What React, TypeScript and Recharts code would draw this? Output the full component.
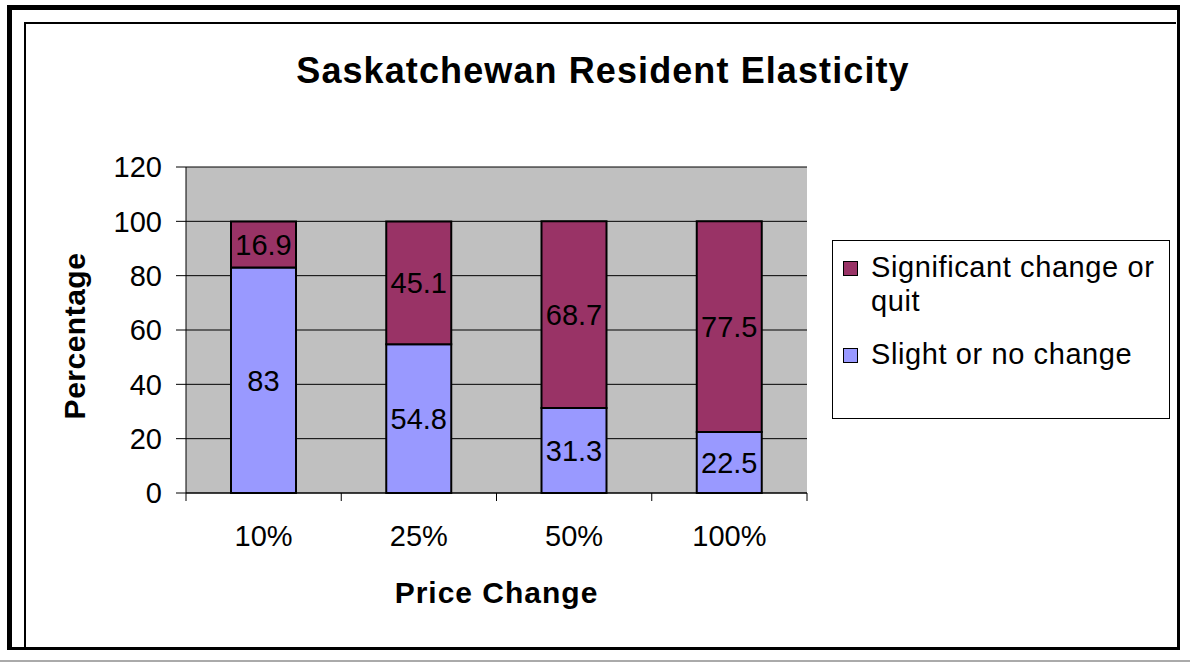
import { BarChart, Bar, XAxis, YAxis, CartesianGrid, LabelList } from 'recharts'

const priceChanges = ['10%', '25%', '50%', '100%']
const slightOrNone = [83, 54.8, 31.3, 22.5]
const significantOrQuit = [16.9, 45.1, 68.7, 77.5]
const yTicks = [0, 20, 40, 60, 80, 100, 120]
const legendItems = [
    { label: 'Significant change or quit', color: '#993366' },
    { label: 'Slight or no change', color: '#9999FF' }
]

const data = priceChanges.map((p, i) => ({
    price: p,
    slight: slightOrNone[i],
    significant: significantOrQuit[i]
}))

const FONT = '"Liberation Sans", Arial, sans-serif'
const PLOT_LEFT = 186
const PLOT_RIGHT = 807
const PLOT_TOP = 167
const PLOT_BOTTOM = 493
const BAND = (PLOT_RIGHT - PLOT_LEFT) / priceChanges.length

// category label plus tick marks on the band edges, like Excel does
const PriceTick = (props: any) => {
    const { x, y, payload, index } = props
    const left = x - BAND / 2
    return (
        <g>
            <line x1={left} x2={left} y1={y} y2={y + 8} stroke="#000" strokeWidth={1} />
            {index === priceChanges.length - 1 && (
                <line x1={x + BAND / 2} x2={x + BAND / 2} y1={y} y2={y + 8} stroke="#000" strokeWidth={1} />
            )}
            <text x={x} y={y + 45} textAnchor="middle" dominantBaseline="middle" fontSize={29} fill="#000" fontFamily={FONT}>
                {payload.value}
            </text>
        </g>
    )
}

const LegendBox = () => (
    <div
        style={{
            position: 'absolute',
            left: 832,
            top: 240,
            width: 336,
            height: 177,
            border: '1px solid #000',
            background: '#fff',
            fontFamily: FONT,
            fontSize: 29,
            letterSpacing: 0.6,
            lineHeight: '34px'
        }}
    >
        {legendItems.map((item, i) => (
            <div key={item.label} style={{ position: 'absolute', left: 10, top: i === 0 ? 9 : 96, display: 'flex', alignItems: 'flex-start' }}>
                <div
                    style={{
                        width: 13,
                        height: 13,
                        background: item.color,
                        border: '1.5px solid #000',
                        marginTop: 11,
                        marginRight: 13,
                        flexShrink: 0
                    }}
                />
                <span style={{ width: 296 }}>{item.label}</span>
            </div>
        ))}
    </div>
)

export default function App() {
    return (
        <div style={{ position: 'absolute', left: 0, top: 0, width: 1190, height: 662, background: '#fff', overflow: 'hidden' }}>
            {/* page frame */}
            <div style={{ position: 'absolute', left: 7, top: 5, width: 1165, height: 637, borderLeft: '5px solid #000', borderTop: '5px solid #000', borderRight: '3px solid #000', borderBottom: '3px solid #000' }} />
            <div style={{ position: 'absolute', left: 24, top: 22, width: 1150, height: 625, borderLeft: '2px solid #000', borderTop: '2px solid #000' }} />
            <div style={{ position: 'absolute', left: 0, top: 660, width: 1190, height: 2, background: '#aaa' }} />

            <div style={{ position: 'absolute', left: 0, top: 0 }}>
                <BarChart
                    width={1190}
                    height={662}
                    data={data}
                    barSize={65}
                    margin={{ top: PLOT_TOP, right: 1190 - PLOT_RIGHT, bottom: 662 - PLOT_BOTTOM - 90, left: PLOT_LEFT - 100 }}
                >
                    <CartesianGrid vertical={false} stroke="#000" fill="#C0C0C0" fillOpacity={1} />
                    <XAxis
                        dataKey="price"
                        height={90}
                        axisLine={{ stroke: '#000' }}
                        tickLine={false}
                        tickSize={0}
                        tickMargin={0}
                        tick={<PriceTick />}
                        interval={0}
                    />
                    <XAxis xAxisId="top" orientation="top" dataKey="price" height={0} axisLine={{ stroke: '#808080' }} tick={false} tickLine={false} />
                    <YAxis
                        width={100}
                        domain={[0, 120]}
                        ticks={yTicks}
                        interval={0}
                        axisLine={{ stroke: '#000' }}
                        tickLine={{ stroke: '#000' }}
                        tickSize={10}
                        tickMargin={14}
                        tick={{ fontSize: 29, fill: '#000', fontFamily: FONT }}
                    />
                    <YAxis yAxisId="right" orientation="right" width={0} domain={[0, 120]} axisLine={{ stroke: '#808080' }} tick={false} tickLine={false} />
                    <Bar dataKey="slight" stackId="a" fill="#9999FF" stroke="#000" strokeWidth={2} isAnimationActive={false}>
                        <LabelList dataKey="slight" position="center" fill="#000" fontSize={29} fontFamily={FONT} />
                    </Bar>
                    <Bar dataKey="significant" stackId="a" fill="#993366" stroke="#000" strokeWidth={2} isAnimationActive={false}>
                        <LabelList dataKey="significant" position="center" fill="#000" fontSize={29} fontFamily={FONT} />
                    </Bar>
                </BarChart>
            </div>

            <LegendBox />

            <div
                style={{
                    position: 'absolute',
                    left: 0,
                    width: 1206,
                    top: 48,
                    textAlign: 'center',
                    fontFamily: FONT,
                    fontSize: 36,
                    letterSpacing: 1.1,
                    fontWeight: 'bold',
                    lineHeight: '46px'
                }}
            >
                Saskatchewan Resident Elasticity
            </div>

            <div
                style={{
                    position: 'absolute',
                    left: PLOT_LEFT,
                    width: PLOT_RIGHT - PLOT_LEFT,
                    top: 575,
                    textAlign: 'center',
                    fontFamily: FONT,
                    fontSize: 30,
                    letterSpacing: 1,
                    fontWeight: 'bold',
                    lineHeight: '36px'
                }}
            >
                Price Change
            </div>

            <div
                style={{
                    position: 'absolute',
                    left: 75 - 120,
                    top: 336 - 18,
                    width: 240,
                    textAlign: 'center',
                    fontFamily: FONT,
                    fontSize: 30,
                    letterSpacing: 0.5,
                    fontWeight: 'bold',
                    lineHeight: '36px',
                    transform: 'rotate(-90deg)'
                }}
            >
                Percentage
            </div>
        </div>
    )
}
